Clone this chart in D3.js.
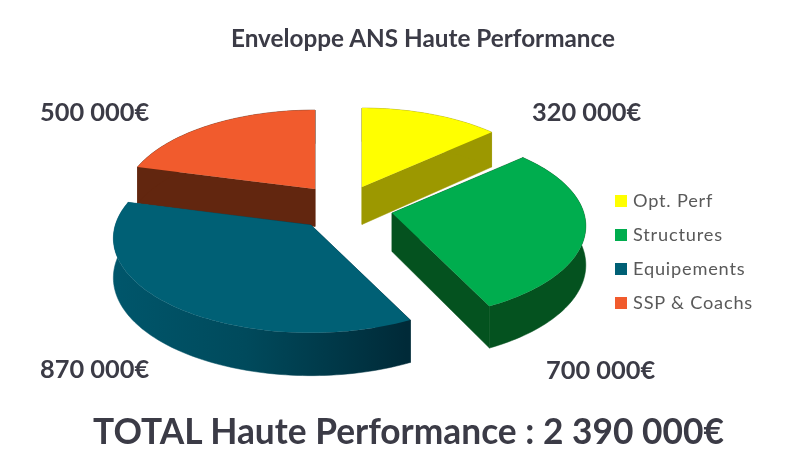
<!DOCTYPE html>
<html>
<head>
<meta charset="utf-8">
<script src="https://cdn.jsdelivr.net/npm/d3@7"></script>
<style>
  html, body { margin: 0; padding: 0; background: #fff; }
  svg { display: block; filter: blur(0.4px); }
  text { font-family: Lato, "Open Sans", sans-serif; }
</style>
</head>
<body>
<div id="chart"></div>
<script>
var title = "Enveloppe ANS Haute Performance";
var totalPrefix = "TOTAL Haute Performance : ";
var categories = ["Opt. Perf", "Structures", "Equipements", "SSP & Coachs"];
var amounts = [320000, 700000, 870000, 500000];

var topColors = ["#ffff00", "#00ad4e", "#006075", "#f15b2d"];
var sideColors = ["#9c9800", "#04521f", "url(#blueSide)", "#62260f"];
// how far each slice is pulled away from the centre, in px
var pullX = [22, 52, -29, -25];
var pullY = [-13, 13, 25, -11];
var zoom = [1, 1.01, 1.03, 1];
var drawOrder = [3, 0, 1, 2];                   // back to front
var labelX = [532, 546, 40, 40];
var labelY = [121, 379, 378, 121];

var width = 806, height = 466;
var cx = 340, cy = 200,
    rx = 190, ry = 90,      // ellipse of the pie at the picture plane
    thick = 38,
    persp = 0.14;

var euro = d3.formatLocale({decimal: ",", thousands: " ", grouping: [3], currency: ["", "€"]}).format("$,");

// pie plane -> screen, relative to the slice tip. py grows towards the viewer, z goes down
function project(i, px, py, z) {
    var s = zoom[i] / (1 - persp * py);
    var wall = thick * (1 + 0.1 * (py + pullY[i] / ry));
    return [cx + pullX[i] + rx * px * s, cy + pullY[i] + ry * py * s + wall * z];
}

var svg = d3.select("#chart").append("svg")
    .attr("width", width)
    .attr("height", height);

var grad = svg.append("defs").append("linearGradient")
    .attr("id", "blueSide")
    .attr("gradientUnits", "userSpaceOnUse")
    .attr("x1", 113).attr("x2", 406).attr("y1", 0).attr("y2", 0);
grad.append("stop").attr("offset", "0%").attr("stop-color", "#00566b");
grad.append("stop").attr("offset", "45%").attr("stop-color", "#004a5c");
grad.append("stop").attr("offset", "100%").attr("stop-color", "#002a38");

var arcs = d3.pie().sort(null)(amounts);
var line = d3.line();

function rim(d, i, z) {
    var n = Math.ceil((d.endAngle - d.startAngle) * 40);
    return d3.range(n + 1).map(function(k) {
        var a = d.startAngle + (d.endAngle - d.startAngle) * k / n;
        return project(i, Math.sin(a), -Math.cos(a), z);
    });
}

var slices = svg.append("g")
    .selectAll("g")
    .data(drawOrder)
    .enter()
    .append("g");

slices.each(function(i) {
    var d = arcs[i], g = d3.select(this);
    var top = rim(d, i, 0), bottom = rim(d, i, 1);
    var a0 = project(i, 0, 0, 0), a1 = project(i, 0, 0, 1);

    // two radial faces and the outer wall, the top hides whatever faces away
    [[a0, top[0], bottom[0], a1],
     [a0, top[top.length - 1], bottom[bottom.length - 1], a1],
     top.concat(bottom.slice().reverse())].forEach(function(face) {
        g.append("path")
            .attr("d", line(face) + "Z")
            .attr("fill", sideColors[i])
            .attr("stroke", sideColors[i])
            .attr("stroke-width", 0.5);
    });

    g.append("path")
        .attr("d", line([a0].concat(top)) + "Z")
        .attr("fill", topColors[i]);
});

// value labels
svg.append("g")
    .selectAll("text")
    .data(amounts)
    .enter()
    .append("text")
    .attr("x", function(d, i) { return labelX[i]; })
    .attr("y", function(d, i) { return labelY[i]; })
    .attr("font-size", 25.4)
    .attr("font-weight", 700)
    .attr("fill", "#3b3b46")
    .text(function(d) { return euro(d); });

svg.append("text")
    .attr("x", 423).attr("y", 47)
    .attr("text-anchor", "middle")
    .attr("font-size", 24.3)
    .attr("font-weight", 700)
    .attr("fill", "#3b3b46")
    .text(title);

svg.append("text")
    .attr("x", 408.5).attr("y", 444)
    .attr("text-anchor", "middle")
    .attr("font-size", 35.3)
    .attr("font-weight", 700)
    .attr("fill", "#3b3b46")
    .text(totalPrefix + euro(d3.sum(amounts)));

// legend
var legendY = d3.scalePoint().domain(categories).range([201, 303]);

var legend = svg.append("g")
    .selectAll("g")
    .data(categories)
    .enter()
    .append("g")
    .attr("transform", function(d) { return "translate(615," + legendY(d) + ")"; });

legend.append("rect")
    .attr("x", 0).attr("y", -6)
    .attr("width", 12).attr("height", 12)
    .attr("fill", function(d, i) { return topColors[i]; });

legend.append("text")
    .attr("x", 18).attr("y", 6)
    .attr("font-size", 18.2)
    .attr("letter-spacing", 0.8)
    .attr("fill", "#595959")
    .text(function(d) { return d; });
</script>
</body>
</html>
